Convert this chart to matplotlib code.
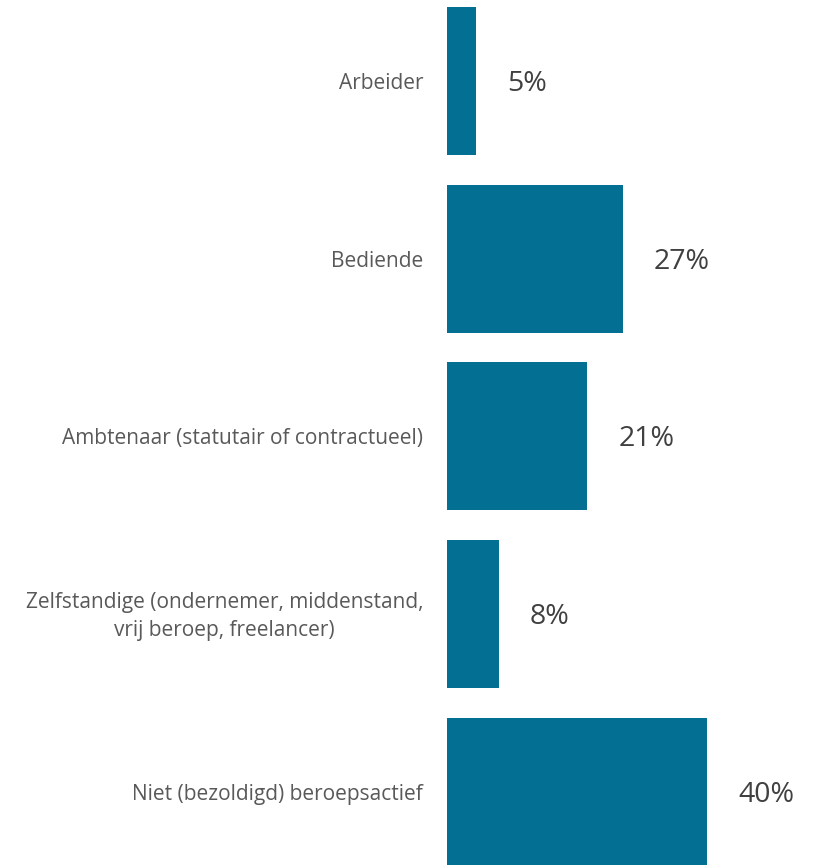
import matplotlib
matplotlib.use("Agg")
import matplotlib.pyplot as plt

categories = [
    "Arbeider",
    "Bediende",
    "Ambtenaar (statutair of contractueel)",
    "Zelfstandige (ondernemer, middenstand,\nvrij beroep, freelancer)",
    "Niet (bezoldigd) beroepsactief",
]
values = [4.5, 27, 21.6, 8, 40]
value_labels = ["5%", "27%", "21%", "8%", "40%"]

plt.rcParams['font.family'] = ['Open Sans', 'DejaVu Sans']

fig = plt.figure(figsize=(8.25, 8.65), dpi=100)
ax = fig.add_axes([447 / 825, 0, 1 - 447 / 825, 1])

ypos = list(range(len(categories)))
pitch = 177.65
ax.barh(ypos, values, height=148 / pitch, color="#036F93")

ax.set_xlim(0, 378 / 6.5)
ax.set_ylim((865 - 81) / pitch, -81 / pitch)

for y, v, lab in zip(ypos, values, value_labels):
    ax.annotate(lab, xy=(v, y), xytext=(31, -3), textcoords="offset pixels",
                ha="left", va="center", fontsize=20.5, color="#404040")

for y, cat in zip(ypos, categories):
    ax.annotate(cat, xy=(0, y), xytext=(-24, -2.5), textcoords="offset pixels",
                ha="right", va="center", multialignment="center",
                fontsize=15, color="#595959", linespacing=1.4)

ax.axis("off")
fig.savefig("out.png", dpi=100)
